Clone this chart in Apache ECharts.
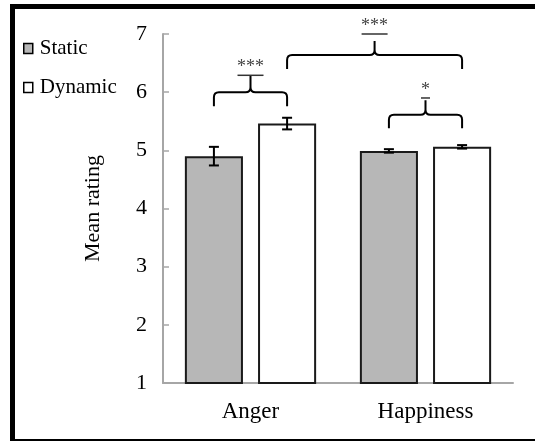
<!DOCTYPE html>
<html>
<head>
<meta charset="utf-8">
<script src="https://cdn.jsdelivr.net/npm/echarts@6/dist/echarts.min.js"></script>
<style>
html,body{margin:0;padding:0;background:#fff;}
#chart{width:535px;height:442px;}
</style>
</head>
<body>
<div id="chart"></div>
<script>
// ---- data ----
const categories = ['Anger', 'Happiness'];
const seriesNames = ['Static', 'Dynamic'];
const staticMeans = [4.90, 4.99];
const dynamicMeans = [5.46, 5.06];
const staticErr = [0.16, 0.03];
const dynamicErr = [0.10, 0.03];
const yMin = 1, yMax = 7, yInterval = 1;
// significance brackets: [category, seriesIndex] of each end
const bracketFrom = [[0, 0], [0, 1], [1, 0]];
const bracketTo = [[0, 1], [1, 1], [1, 1]];
const bracketLevel = [6.00, 6.64, 5.61];
const bracketEnd = [5.76, 6.40, 5.38];
const bracketPeak = [6.28, 6.88, 5.86];
const bracketLine = [6.29, 7.00, 5.90];
const bracketLabel = ['***', '***', '*'];

const FONT = '"Liberation Serif", "Times New Roman", serif';
const CAT_GAP = 0.25, BAR_GAP = 0.26;

const chart = echarts.init(document.getElementById('chart'), null, {renderer: 'canvas'});

function barOffset(band) {
  const w = band * (1 - CAT_GAP) / (2 + BAR_GAP);
  return w * (1 + BAR_GAP) / 2;
}

function errorSeries(name, means, errs, side) {
  return {
    name: name + ' error',
    type: 'custom',
    z: 5,
    clip: false,
    data: means.map((m, i) => [i, m, errs[i]]),
    renderItem: function (params, api) {
      const c = api.value(0), m = api.value(1), e = api.value(2);
      const band = api.size([1, 0])[0];
      const x = api.coord([c, m])[0] + side * barOffset(band);
      const yHi = api.coord([c, m + e])[1];
      const yLo = api.coord([c, m - e])[1];
      const cap = 5;
      const st = {stroke: '#000', lineWidth: 2};
      return {
        type: 'group',
        children: [
          {type: 'line', shape: {x1: x, y1: yHi, x2: x, y2: yLo}, style: st},
          {type: 'line', shape: {x1: x - cap, y1: yHi, x2: x + cap, y2: yHi}, style: st},
          {type: 'line', shape: {x1: x - cap, y1: yLo, x2: x + cap, y2: yLo}, style: st}
        ]
      };
    }
  };
}

const option = {
  animation: false,
  backgroundColor: '#fff',
  grid: {left: 163, right: 22, top: 34, bottom: 59},
  legend: {
    orient: 'vertical',
    left: 18,
    top: 33,
    itemWidth: 9,
    itemHeight: 10,
    itemGap: 18,
    icon: 'rect',
    textStyle: {fontFamily: FONT, fontSize: 21, color: '#000', padding: [0, 0, 0, 2]},
    data: [
      {name: seriesNames[0], itemStyle: {color: '#b7b7b7', borderColor: '#000', borderWidth: 1.5}},
      {name: seriesNames[1], itemStyle: {color: '#fff', borderColor: '#000', borderWidth: 1.5}}
    ]
  },
  xAxis: {
    type: 'category',
    data: categories,
    axisLine: {lineStyle: {color: '#a6a6a6', width: 2}},
    axisTick: {show: false},
    axisLabel: {fontFamily: FONT, fontSize: 23, color: '#000', margin: 17}
  },
  yAxis: {
    type: 'value',
    min: yMin, max: yMax, interval: yInterval,
    name: 'Mean rating',
    nameLocation: 'middle',
    nameGap: 59,
    nameTextStyle: {fontFamily: FONT, fontSize: 22, color: '#000'},
    splitLine: {show: false},
    axisLine: {show: true, lineStyle: {color: '#a6a6a6', width: 2}},
    axisTick: {show: true, inside: true, length: 6, lineStyle: {color: '#a6a6a6', width: 1.5}},
    axisLabel: {fontFamily: FONT, fontSize: 22, color: '#000', margin: 16}
  },
  series: [
    {
      name: seriesNames[0], type: 'bar', data: staticMeans,
      barCategoryGap: (CAT_GAP * 100) + '%', barGap: (BAR_GAP * 100) + '%',
      itemStyle: {color: '#b7b7b7', borderColor: '#1a1a1a', borderWidth: 2}
    },
    {
      name: seriesNames[1], type: 'bar', data: dynamicMeans,
      barCategoryGap: (CAT_GAP * 100) + '%', barGap: (BAR_GAP * 100) + '%',
      itemStyle: {color: '#fff', borderColor: '#1a1a1a', borderWidth: 2}
    },
    errorSeries(seriesNames[0], staticMeans, staticErr, -1),
    errorSeries(seriesNames[1], dynamicMeans, dynamicErr, 1),
    {
      name: 'brackets',
      type: 'custom',
      z: 6,
      clip: false,
      data: bracketLevel.map((v, i) => [bracketFrom[i][0], v]),
      renderItem: function (params, api) {
        const i = params.dataIndex;
        const band = api.size([1, 0])[0];
        const off = barOffset(band);
        const xOf = (p) => api.coord([p[0], yMin])[0] + (p[1] === 0 ? -off : off);
        const yOf = (v) => api.coord([0, v])[1];
        const x0 = xOf(bracketFrom[i]), x1 = xOf(bracketTo[i]);
        const xm = (x0 + x1) / 2;
        const yH = yOf(bracketLevel[i]), yE = yOf(bracketEnd[i]);
        const yP = yOf(bracketPeak[i]), yL = yOf(bracketLine[i]);
        const r = 5;
        const d = 'M' + x0 + ' ' + yE +
          ' L' + x0 + ' ' + (yH + r) +
          ' Q' + x0 + ' ' + yH + ' ' + (x0 + r) + ' ' + yH +
          ' L' + (xm - r) + ' ' + yH +
          ' Q' + xm + ' ' + yH + ' ' + xm + ' ' + (yH - r) +
          ' L' + xm + ' ' + yP +
          ' M' + xm + ' ' + (yH - r) +
          ' Q' + xm + ' ' + yH + ' ' + (xm + r) + ' ' + yH +
          ' L' + (x1 - r) + ' ' + yH +
          ' Q' + x1 + ' ' + yH + ' ' + x1 + ' ' + (yH + r) +
          ' L' + x1 + ' ' + yE;
        const half = bracketLabel[i].length === 1 ? 4.5 : 13;
        return {
          type: 'group',
          children: [
            {type: 'path', shape: {pathData: d}, style: {stroke: '#000', lineWidth: 2, fill: null}},
            {type: 'line', shape: {x1: xm - half, y1: yL, x2: xm + half, y2: yL}, style: {stroke: '#333', lineWidth: 1.5}},
            {type: 'text', x: xm, y: yL + 1, style: {text: bracketLabel[i], fill: '#444', font: '18px ' + FONT, textAlign: 'center', textVerticalAlign: 'bottom'}}
          ]
        };
      }
    }
  ],
  graphic: [
    {type: 'line', shape: {x1: 12.5, y1: 4, x2: 12.5, y2: 441}, style: {stroke: '#000', lineWidth: 5}, z: 100},
    {type: 'line', shape: {x1: 10, y1: 6.5, x2: 535, y2: 6.5}, style: {stroke: '#000', lineWidth: 5}, z: 100},
    {type: 'line', shape: {x1: 10, y1: 440, x2: 535, y2: 440}, style: {stroke: '#000', lineWidth: 2}, z: 100}
  ]
};
chart.setOption(option);
</script>
</body>
</html>
